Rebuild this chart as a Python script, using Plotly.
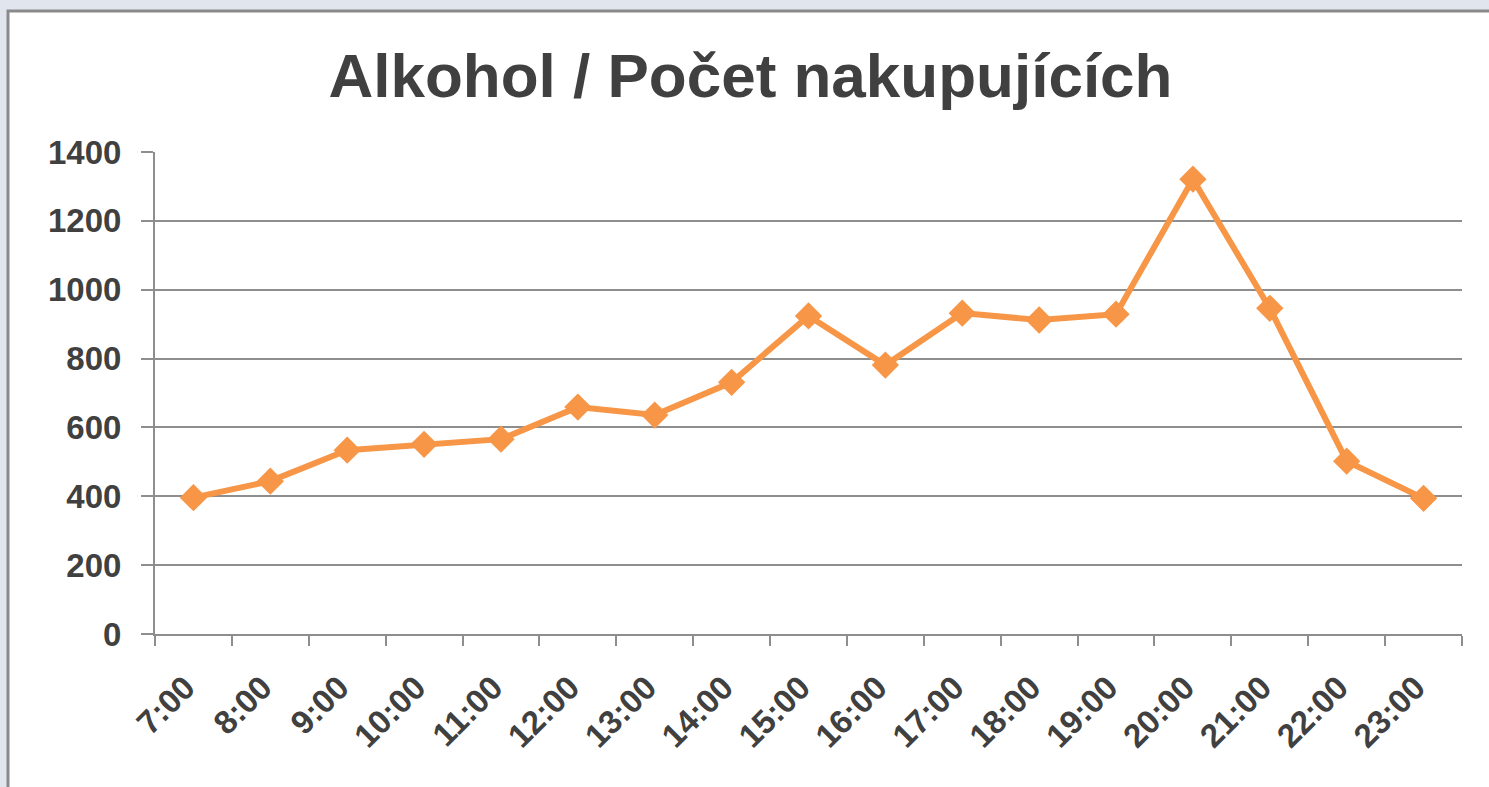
import plotly.graph_objects as go

hours = ["7:00", "8:00", "9:00", "10:00", "11:00", "12:00", "13:00", "14:00", "15:00",
         "16:00", "17:00", "18:00", "19:00", "20:00", "21:00", "22:00", "23:00"]
shoppers = [396, 444, 534, 551, 566, 659, 636, 731, 924, 781, 932, 912, 929, 1321, 946, 502, 394]
y_ticks = [0, 200, 400, 600, 800, 1000, 1200, 1400]

W, H = 1489, 787
L, R, T, B = 155, 27, 152, 153
pw, ph = W - L - R, H - T - B

def px_x(x):
    return (x - L) / pw

def px_y(y):
    return (H - B - y) / ph

orange = "#F79646"
txt = "#404040"
grid = "#8E8E8E"
font_fam = "Liberation Sans, Arial, sans-serif"

fig = go.Figure()
fig.add_trace(go.Scatter(
    x=hours, y=shoppers, mode="lines+markers",
    line=dict(color=orange, width=6),
    marker=dict(symbol="diamond", size=21, color=orange),
    hoverinfo="x+y", showlegend=False,
))

fig.add_shape(type="rect", xref="paper", yref="paper", layer="below",
              x0=px_x(8), x1=px_x(W + 20), y0=px_y(H + 20), y1=px_y(11),
              fillcolor="white", line=dict(color="#8A8A8A", width=3))

fig.update_layout(
    width=W, height=H,
    margin=dict(l=L, r=R, t=T, b=B, pad=0, autoexpand=False),
    paper_bgcolor="#E1E6EE",
    plot_bgcolor="rgba(0,0,0,0)",
    title=dict(text="<b>Alkohol / Počet nakupujících</b>", x=0.504, xanchor="center",
               y=1 - 75 / H, yanchor="middle",
               font=dict(family=font_fam, size=62, color=txt)),
    font=dict(family=font_fam, color=txt),
)
fig.update_xaxes(
    type="category", range=[-0.5, len(hours) - 0.5],
    tickson="boundaries", ticks="outside", ticklen=10, tickwidth=2, tickcolor=grid,
    showline=True, linecolor=grid, linewidth=2, showgrid=False,
    tickangle=-45, ticklabelstandoff=19, ticklabelshift=-8, automargin=False,
    tickfont=dict(size=33, color=txt, family=font_fam, weight="bold"),
)
fig.update_yaxes(
    range=[0, 1400], tickvals=y_ticks, ticktext=[str(v) for v in y_ticks],
    ticks="outside", ticklen=12, tickwidth=2, tickcolor=grid,
    showline=True, linecolor=grid, linewidth=2,
    showgrid=True, gridcolor=grid, gridwidth=1.5, zeroline=False,
    ticklabelstandoff=13, automargin=False,
    tickfont=dict(size=33, color=txt, family=font_fam, weight="bold"),
)

fig.write_html(
    "out.html",
    config={"displayModeBar": False},
    post_script="document.body.style.margin='0';document.body.style.background='#E1E6EE';document.body.style.overflow='hidden';",
)
